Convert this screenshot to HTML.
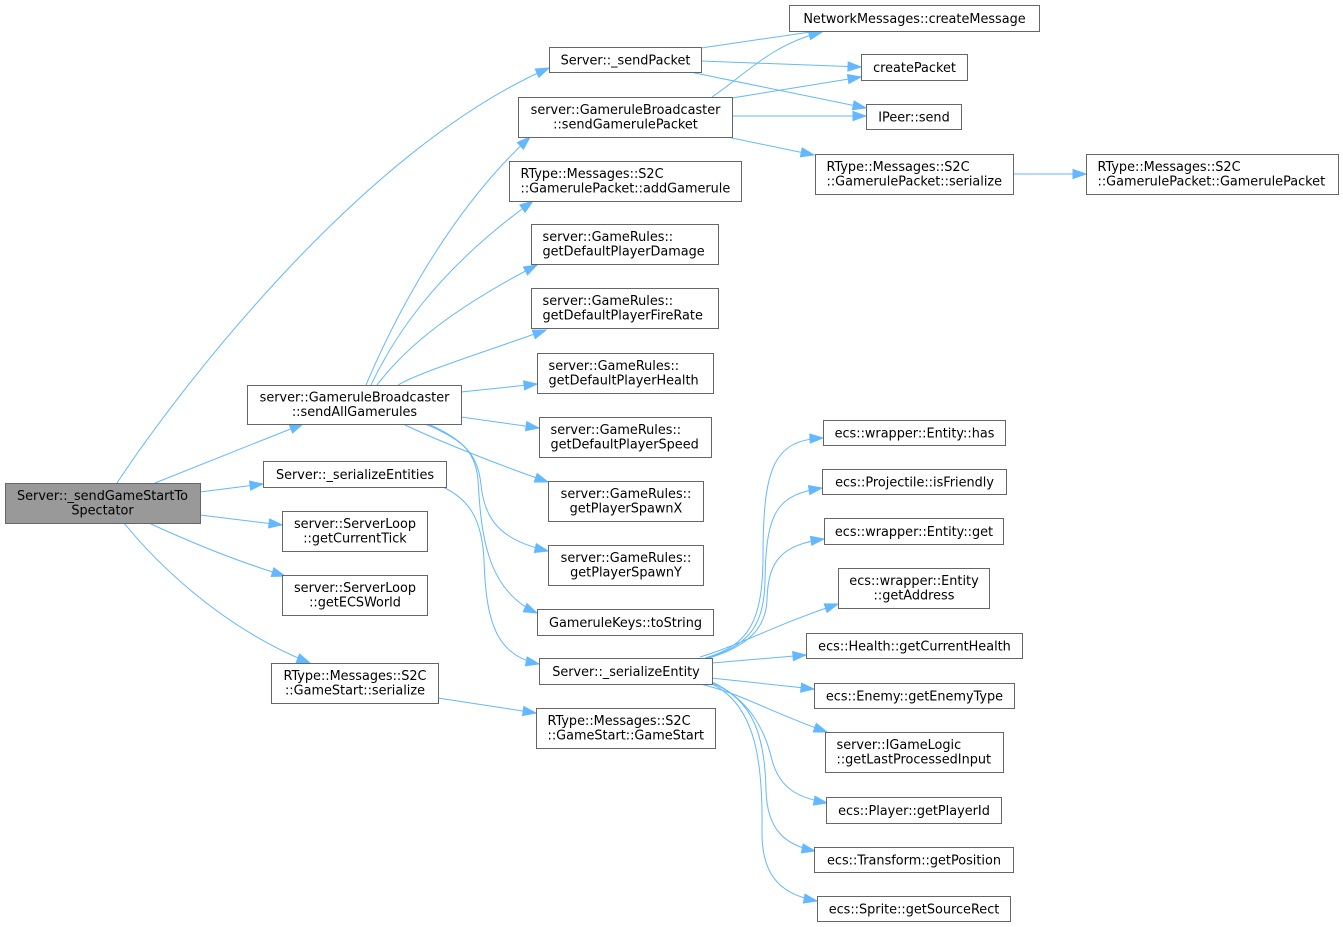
<!DOCTYPE html>
<html><head><meta charset="utf-8"><style>
html,body{margin:0;padding:0;background:#fff;}
svg{display:block;}
text{font-family:"DejaVu Sans","Liberation Sans",sans-serif;font-size:12.85px;fill:#000;}
.n{fill:#fff;stroke:#666;stroke-width:1;}
.m{fill:#999;stroke:#666;stroke-width:1;}
.e{fill:none;stroke:#63b8ff;stroke-width:1;marker-end:url(#a);}
.c{text-anchor:middle;}
</style></head><body>
<svg width="1343" height="927" viewBox="0 0 1343 927" xmlns="http://www.w3.org/2000/svg">
<defs>
<marker id="a" markerUnits="userSpaceOnUse" markerWidth="14" markerHeight="10" refX="13" refY="4.5" orient="auto" overflow="visible">
<path d="M0,0 L13,4.5 L0,9 z" fill="#63b8ff" stroke="#63b8ff" stroke-width="1"/>
</marker>
</defs>

<!-- edges -->
<path class="e" d="M117,483 C175,395 360,150 549,68"/>
<path class="e" d="M155,483 L303,424"/>
<path class="e" d="M200,492 L263,484"/>
<path class="e" d="M200,515 L282,525"/>
<path class="e" d="M149,523 Q220,556 285,576"/>
<path class="e" d="M124,523 C150,555 215,625 310,663"/>

<path class="e" d="M701,48 L824,30"/>
<path class="e" d="M701,61 L861,67"/>
<path class="e" d="M690,72 L866,108"/>
<path class="e" d="M712,97 C745,75 770,45 822,32"/>
<path class="e" d="M732,98 L861,77"/>
<path class="e" d="M732,116 L866,116"/>
<path class="e" d="M727,137 L814,155"/>
<path class="e" d="M1013,174 L1086,174"/>

<path class="e" d="M366,385 C385,340 440,220 530,137"/>
<path class="e" d="M371,385 C390,345 430,275 533,201"/>
<path class="e" d="M377,385 C400,355 440,315 537,265"/>
<path class="e" d="M398,385 C420,372 490,350 546,330"/>
<path class="e" d="M461,392 L537,384"/>
<path class="e" d="M461,417 L539,428"/>
<path class="e" d="M403,424 C430,437 490,462 548,482"/>
<path class="e" d="M425,424 C465,440 478,455 481,485 C485,520 500,540 548,551"/>
<path class="e" d="M428,424 C465,440 476,455 478,480 C481,530 485,590 537,613"/>
<path class="e" d="M443,487 C470,500 482,520 484,560 C486,620 495,655 539,664"/>
<path class="e" d="M438,698 L536,713"/>

<path class="e" d="M705,658 C750,645 762,620 763,560 C763,470 772,440 823,438"/>
<path class="e" d="M707,658 C750,645 764,625 765,580 C766,510 778,495 822,488"/>
<path class="e" d="M709,658 C752,645 766,625 767,600 C768,560 782,545 824,539"/>
<path class="e" d="M700,657 C740,645 775,625 838,604"/>
<path class="e" d="M712,663 L806,655"/>
<path class="e" d="M711,678 L814,689"/>
<path class="e" d="M700,684 C740,693 770,712 827,732"/>
<path class="e" d="M712,682 C750,700 765,730 772,760 C780,790 800,798 827,803"/>
<path class="e" d="M712,683 C755,700 765,740 766,790 C767,830 785,845 815,851"/>
<path class="e" d="M712,684 C755,705 763,760 762,830 C761,880 785,895 817,901"/>

<!-- nodes -->
<rect class="m" x="5.5" y="483.5" width="195" height="40"/>
<text class="c" x="102.5" y="499.8">Server::_sendGameStartTo</text>
<text class="c" x="102.5" y="514.3">Spectator</text>

<rect class="n" x="549.5" y="47.5" width="152" height="25"/>
<text class="c" x="625.5" y="64.5">Server::_sendPacket</text>

<rect class="n" x="789.5" y="5.5" width="250" height="26"/>
<text class="c" x="914.5" y="23">NetworkMessages::createMessage</text>

<rect class="n" x="861.5" y="54.5" width="106" height="26"/>
<text class="c" x="914.5" y="72">createPacket</text>

<rect class="n" x="866.5" y="104.5" width="95" height="25"/>
<text class="c" x="914" y="121.5">IPeer::send</text>

<rect class="n" x="518.5" y="97.5" width="214" height="40"/>
<text class="c" x="625.5" y="113.8">server::GameruleBroadcaster</text>
<text class="c" x="625.5" y="128.3">::sendGamerulePacket</text>

<rect class="n" x="815.5" y="154.5" width="198" height="40"/>
<text x="826.5" y="170.8">RType::Messages::S2C</text>
<text x="826.5" y="185.3">::GamerulePacket::serialize</text>

<rect class="n" x="1086.5" y="154.5" width="252" height="40"/>
<text x="1097.5" y="170.8">RType::Messages::S2C</text>
<text x="1097.5" y="185.3">::GamerulePacket::GamerulePacket</text>

<rect class="n" x="509.5" y="161.5" width="232" height="40"/>
<text x="520.5" y="177.8">RType::Messages::S2C</text>
<text x="520.5" y="192.3">::GamerulePacket::addGamerule</text>

<rect class="n" x="531.5" y="224.5" width="187" height="40"/>
<text x="542.5" y="240.8">server::GameRules::</text>
<text x="542.5" y="255.3">getDefaultPlayerDamage</text>

<rect class="n" x="531.5" y="288.5" width="187" height="40"/>
<text x="542.5" y="304.8">server::GameRules::</text>
<text x="542.5" y="319.3">getDefaultPlayerFireRate</text>

<rect class="n" x="537.5" y="353.5" width="176" height="40"/>
<text x="548.5" y="369.8">server::GameRules::</text>
<text x="548.5" y="384.3">getDefaultPlayerHealth</text>

<rect class="n" x="539.5" y="417.5" width="172" height="40"/>
<text x="550.5" y="433.8">server::GameRules::</text>
<text x="550.5" y="448.3">getDefaultPlayerSpeed</text>

<rect class="n" x="548.5" y="481.5" width="155" height="40"/>
<text class="c" x="626" y="497.8">server::GameRules::</text>
<text class="c" x="626" y="512.3">getPlayerSpawnX</text>

<rect class="n" x="548.5" y="545.5" width="155" height="40"/>
<text class="c" x="626" y="561.8">server::GameRules::</text>
<text class="c" x="626" y="576.3">getPlayerSpawnY</text>

<rect class="n" x="537.5" y="609.5" width="176" height="26"/>
<text class="c" x="625.5" y="627">GameruleKeys::toString</text>

<rect class="n" x="539.5" y="658.5" width="173" height="26"/>
<text class="c" x="626" y="676">Server::_serializeEntity</text>

<rect class="n" x="536.5" y="708.5" width="179" height="40"/>
<text x="547.5" y="724.8">RType::Messages::S2C</text>
<text x="547.5" y="739.3">::GameStart::GameStart</text>

<rect class="n" x="247.5" y="385.5" width="214" height="39"/>
<text class="c" x="354.5" y="401.3">server::GameruleBroadcaster</text>
<text class="c" x="354.5" y="415.8">::sendAllGamerules</text>

<rect class="n" x="263.5" y="461.5" width="183" height="26"/>
<text class="c" x="355" y="479">Server::_serializeEntities</text>

<rect class="n" x="282.5" y="511.5" width="145" height="40"/>
<text class="c" x="355" y="527.8">server::ServerLoop</text>
<text class="c" x="355" y="542.3">::getCurrentTick</text>

<rect class="n" x="282.5" y="575.5" width="145" height="40"/>
<text class="c" x="355" y="591.8">server::ServerLoop</text>
<text class="c" x="355" y="606.3">::getECSWorld</text>

<rect class="n" x="271.5" y="663.5" width="167" height="40"/>
<text class="c" x="355" y="679.8">RType::Messages::S2C</text>
<text class="c" x="355" y="694.3">::GameStart::serialize</text>

<rect class="n" x="823.5" y="420.5" width="182" height="25"/>
<text class="c" x="914.5" y="437.5">ecs::wrapper::Entity::has</text>

<rect class="n" x="822.5" y="469.5" width="184" height="25"/>
<text class="c" x="914.5" y="486.5">ecs::Projectile::isFriendly</text>

<rect class="n" x="824.5" y="518.5" width="179" height="26"/>
<text class="c" x="914" y="536">ecs::wrapper::Entity::get</text>

<rect class="n" x="838.5" y="568.5" width="151" height="40"/>
<text class="c" x="914" y="584.8">ecs::wrapper::Entity</text>
<text class="c" x="914" y="599.3">::getAddress</text>

<rect class="n" x="806.5" y="633.5" width="216" height="25"/>
<text class="c" x="914.5" y="650.5">ecs::Health::getCurrentHealth</text>

<rect class="n" x="814.5" y="683.5" width="200" height="25"/>
<text class="c" x="914.5" y="700.5">ecs::Enemy::getEnemyType</text>

<rect class="n" x="825.5" y="732.5" width="178" height="40"/>
<text x="836.5" y="748.8">server::IGameLogic</text>
<text x="836.5" y="763.3">::getLastProcessedInput</text>

<rect class="n" x="826.5" y="797.5" width="175" height="26"/>
<text class="c" x="914" y="815">ecs::Player::getPlayerId</text>

<rect class="n" x="814.5" y="847.5" width="199" height="25"/>
<text class="c" x="914" y="864.5">ecs::Transform::getPosition</text>

<rect class="n" x="817.5" y="896.5" width="193" height="25"/>
<text class="c" x="914" y="913.5">ecs::Sprite::getSourceRect</text>
</svg>
</body></html>
